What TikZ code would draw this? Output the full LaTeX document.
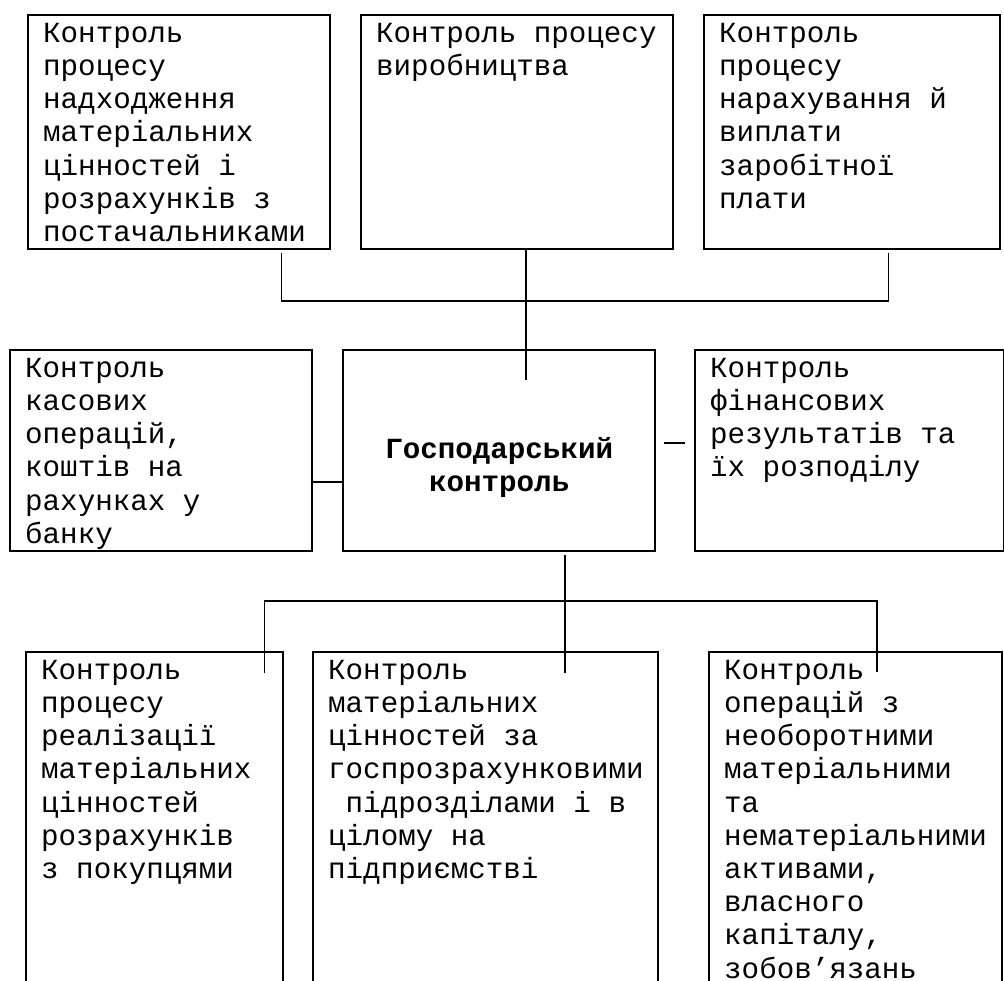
\documentclass[tikz,border=0pt]{standalone}
\usepackage{fontspec}
\setmainfont{Liberation Mono}
\usepackage{tikz}

\begin{document}
\begin{tikzpicture}[x=0.5pt,y=-0.5pt,font=\fontsize{14.6}{16.6}\selectfont,
  cell/.style={draw,line width=1.2pt,anchor=north west,align=left,
    inner xsep=7.5pt,inner ysep=0pt,text height=13.5pt,
    execute at begin node={\setlength{\spaceskip}{8.76pt}\setlength{\xspaceskip}{8.76pt}}},
  wire/.style={line width=0.9pt}]
  \useasboundingbox (0,0) rectangle (1004,980);
  \clip (0,0) rectangle (1004,980);
  % top row
  \node[cell,text width=136pt,text depth=103.5pt] (A) at (27,14)
    {Контроль\\процесу\\надходження\\матеріальних\\цінностей і\\розрахунків з\\постачальниками};
  \node[cell,text width=141pt,text depth=103.5pt] (B) at (360,14)
    {Контроль процесу\\виробництва};
  \node[cell,text width=133pt,text depth=103.5pt] (C) at (703,14)
    {Контроль\\процесу\\нарахування й\\виплати\\заробітної\\плати};
  % middle row
  \node[cell,text width=136pt,text depth=87pt] (D) at (9,349)
    {Контроль\\касових\\операцій,\\коштів на\\рахунках у\\банку};
  \node[cell,align=center,text width=141pt,text height=54pt,text depth=46.5pt] (E) at (342,349)
    {\bfseries Господарський\\контроль};
  \node[cell,text width=139.5pt,text depth=87pt] (F) at (694,349)
    {Контроль\\фінансових\\результатів та\\їх розподілу};
  % bottom row
  \node[cell,text width=113.5pt,text depth=161pt] (G) at (25,651)
    {Контроль\\процесу\\реалізації\\матеріальних\\цінностей\\розрахунків\\з покупцями};
  \node[cell,text width=157.5pt,text depth=161pt] (H) at (312,651)
    {Контроль\\матеріальних\\цінностей за\\госпрозрахунковими\\\hspace*{8.76pt}підрозділами і в\\цілому на\\підприємстві};
  \node[cell,text width=131.5pt,text depth=161pt] (I) at (708,651)
    {Контроль\\операцій з\\необоротними\\матеріальними\\та\\нематеріальними\\активами,\\власного\\капіталу,\\зобов’язань};
  % connectors
  \coordinate (topbus) at (526,301);
  \coordinate (hubtop) at (526,380);
  \coordinate (lowbus) at (565,601);
  \draw[wire] ([shift={(-50,3)}]A.south east) |- (topbus) -| ([shift={(-113,3)}]C.south east);
  \draw[wire] (topbus |- B.south) -- (hubtop);
  \draw[wire] ([shift={(0,31)}]D.east) -- ([shift={(2,31)}]E.west);
  \draw[wire] ([shift={(8,-8)}]E.east) -- ([shift={(-9,-8)}]F.west);
  \draw[wire] ([shift={(0,3)}]lowbus |- E.south) -- ([shift={(0,22)}]lowbus |- H.north);
  \draw[wire] ([shift={(-20,22)}]G.north east) |- (lowbus) -| ([shift={(169,21)}]I.north west);
\end{tikzpicture}
\end{document}
